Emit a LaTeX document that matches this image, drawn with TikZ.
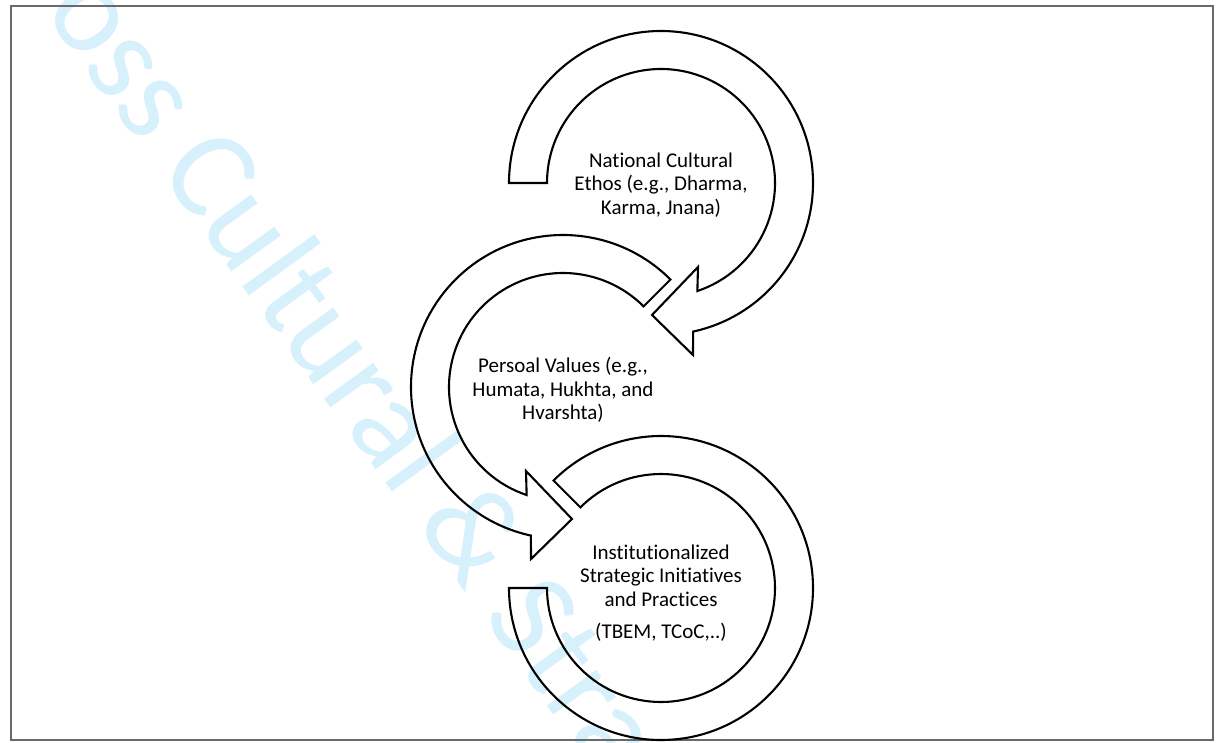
\documentclass[tikz,border=0pt]{standalone}
\usepackage{fontspec}
\setmainfont{Carlito}[Ligatures=NoCommon]
\usetikzlibrary{calc}
\definecolor{wmblue}{RGB}{214,240,252}
\definecolor{framegray}{RGB}{105,105,105}
\begin{document}
\begin{tikzpicture}[x=1pt,y=1pt,
  band/.style={draw=black, line width=2.1pt, line join=miter},
  frameline/.style={draw=framegray, line width=1.8pt},
  lbl/.style={align=center, font=\fontsize{21}{23.5}\selectfont, inner sep=0pt}]
\useasboundingbox (0,0) rectangle (1216,-742);
% watermark
\begin{scope}
\clip (0,0) rectangle (1216,-742);
\node[anchor=base west, rotate=-54, text=wmblue, inner sep=0pt,
      font=\fontsize{128}{150}\selectfont] (wmk) at (-23,79) {Cross Cultural \& Strategic};
\end{scope}
% frame
\draw[frameline] (11,-6) rectangle (1213,-740);
% centres
\coordinate (c1) at (661,-183);
\coordinate (c2) at (563,-387);
\coordinate (c3) at (661,-588);
% arrow 1
\draw[band] ($(c1)+(180:152)$) arc[start angle=180,end angle=-77.8,radius=152]
  -- ($(c1)+(32,-172)$) -- ($(c1)+(-9,-132)$) -- ($(c1)+(37,-84)$)
  -- ($(c1)+(-71.4:114)$) arc[start angle=-71.4,end angle=180,radius=114] -- cycle;
% arrow 2
\draw[band] ($(c2)+(45:152)$) arc[start angle=45,end angle=257.8,radius=152]
  -- ($(c2)+(-32,-172)$) -- ($(c2)+(9,-132)$) -- ($(c2)+(-37,-84)$)
  -- ($(c2)+(251.4:114)$) arc[start angle=251.4,end angle=45,radius=114] -- cycle;
% arrow 3
\draw[band] ($(c3)+(180:152)$) arc[start angle=180,end angle=495,radius=152]
  -- ($(c3)+(135:114)$) arc[start angle=135,end angle=-180,radius=114] -- cycle;
% labels
\node[lbl] (t1) at (661,-185) {National Cultural\\Ethos (e.g., Dharma,\\Karma, Jnana)};
\node[lbl] (t2) at (563,-390) {Persoal Values (e.g.,\\Humata, Hukhta, and\\Hvarshta)};
\node[lbl] (t3) at (661,-593) {Institutionalized\\Strategic Initiatives\\and Practices\\[9pt](TBEM, TCoC,..)};
\end{tikzpicture}
\end{document}
